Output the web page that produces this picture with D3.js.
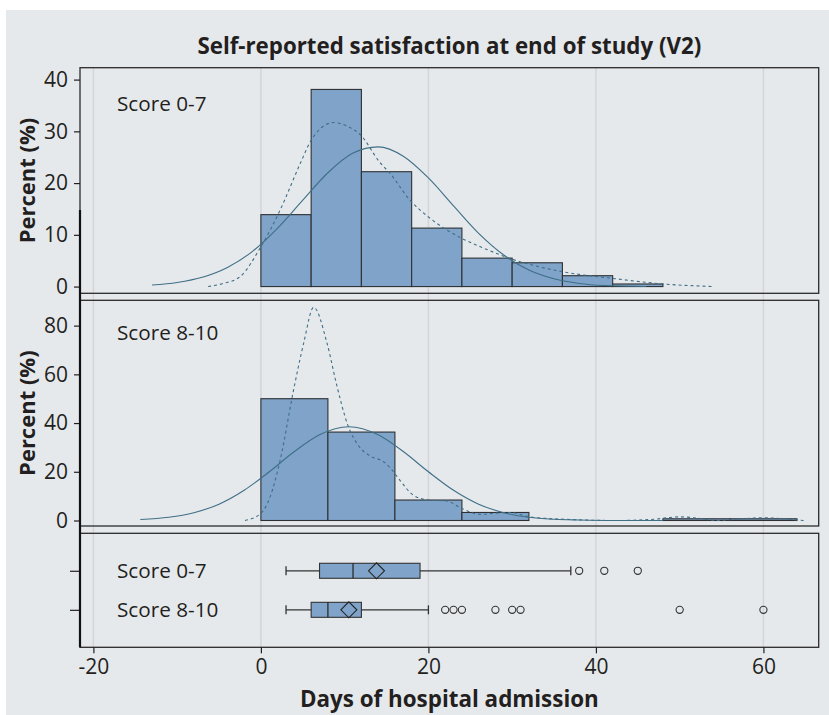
<!DOCTYPE html>
<html>
<head>
<meta charset="utf-8">
<script src="https://d3js.org/d3.v7.min.js"></script>
<style>
  body { margin: 0; background: #fff; }
  svg { display: block; font-family: "Open Sans", "Noto Sans", sans-serif; }
</style>
</head>
<body>
<svg id="chart" width="829" height="715"></svg>
<script>
// ---- data ----
const groups = ["Score 0-7", "Score 8-10"];

// histogram, score 0-7 (6-day bins)
const binStartLow = [0, 6, 12, 18, 24, 30, 36, 42];
const binWidthLow = 6;
const pctLow = [13.9, 38.1, 22.2, 11.3, 5.5, 4.6, 2.1, 0.5];

// histogram, score 8-10 (8-day bins)
const binStartHigh = [0, 8, 16, 24, 32, 40, 48, 56];
const binWidthHigh = 8;
const pctHigh = [50.0, 36.3, 8.4, 3.3, 0, 0, 0.7, 0.7];

// fitted normal curves (solid)
const normalLow = [[-13, 0.3], [-10, 0.8], [-7, 1.8], [-4, 3.7], [-1, 6.8], [2, 11.3], [5, 16.7],
  [8, 22.0], [11, 25.8], [14, 27.0], [17, 25.2], [20, 21.0], [23, 15.6], [26, 10.3], [29, 6.1],
  [32, 3.2], [35, 1.5], [38, 0.6], [41, 0.2], [46, 0]];
const normalHigh = [[-14.4, 0.4], [-11, 1.3], [-8, 3.2], [-5, 6.7], [-2, 12.4], [1, 20.0], [4, 28.3],
  [7, 35.2], [10.5, 38.5], [14, 35.2], [17, 28.3], [20, 20.0], [23, 12.4], [26, 6.7], [29, 3.2],
  [32, 1.3], [35, 0.5], [38, 0.2], [42, 0], [48, 0]];

// kernel density curves (dashed)
const kernelLow = [[-6.3, 0], [-4.5, 0.6], [-2.5, 1.9], [0, 7.7], [2.3, 14.8], [4.7, 23.8], [5.9, 28.0],
  [7.3, 30.8], [8.7, 31.7], [10.3, 31.0], [11.9, 29.3], [14.2, 24.0], [15.4, 21.9], [17.8, 16.7],
  [20.2, 13.2], [24, 9.3], [26.2, 7.7], [29.8, 5.4], [35.9, 2.9], [41.9, 1.6], [48.1, 0.5], [54, 0]];
const kernelHigh = [[-1.9, 0], [0, 2.9], [1.1, 9.7], [2.3, 24.8], [3.9, 53.6], [5.1, 72.7], [6.3, 87.5],
  [7.9, 72.7], [9.1, 54.9], [10.3, 39.9], [11.7, 30.5], [13.05, 26.5], [14.6, 24.2], [15.6, 21.0],
  [16.6, 16.5], [18.2, 10.4], [20, 8.4], [22.2, 8.0], [24, 4.9], [26.2, 2.5], [28, 3.0], [29.8, 3.3],
  [32, 1.5], [37, 0.4], [42.5, 0], [46.9, 0.5], [50, 1.5], [52.5, 0.8], [54.4, 0], [57, 0.6],
  [60, 1.1], [62.5, 0.7], [64.8, 0]];

// box plot statistics
const whiskerLo = [3, 3];
const q1 = [7, 6];
const median = [11, 8];
const mean = [13.8, 10.5];
const q3 = [19, 12];
const whiskerHi = [37, 20];
const outliers = [[38, 41, 45], [22, 23, 24, 28, 30, 31, 50, 60]];

const xTicks = [-20, 0, 20, 40, 60];
const yTicksLow = [0, 10, 20, 30, 40];
const yTicksHigh = [0, 20, 40, 60, 80];

// ---- layout ----
const ink = "#231f20";
const bg = "#e6e9ec";
const barFill = "#7fa3c9";
const curveColor = "#3f6f86";
const plotL = 80, plotR = 818.7;
const panels = {
  low: { top: 67.7, bottom: 293.3 },
  high: { top: 300.3, bottom: 526 },
  box: { top: 533.3, bottom: 647.3 }
};

const svg = d3.select("#chart");
svg.append("rect").attr("x", 6).attr("y", 10).attr("width", 823).attr("height", 705).attr("fill", bg);

const x = d3.scaleLinear().domain([-21.6, 66.6]).range([plotL, plotR]);
const yLow = d3.scaleLinear().domain([-1.3, 42.3]).range([panels.low.bottom, panels.low.top]);
const yHigh = d3.scaleLinear().domain([-2.26, 90.4]).range([panels.high.bottom, panels.high.top]);
const yBox = d3.scalePoint().domain(groups).range([panels.box.top, panels.box.bottom]).padding(0.96);

// title
svg.append("text")
  .attr("x", (plotL + plotR) / 2).attr("y", 54)
  .attr("text-anchor", "middle")
  .attr("fill", ink)
  .style("font-size", "22.3px").style("font-weight", "700")
  .text("Self-reported satisfaction at end of study (V2)");

// vertical grid lines through all panels
svg.append("g")
  .selectAll("line")
  .data(xTicks)
  .join("line")
  .attr("x1", d => x(d)).attr("x2", d => x(d))
  .attr("y1", panels.low.top).attr("y2", panels.box.bottom)
  .attr("stroke", "#d3d5d8").attr("stroke-width", 1.5);

function histPanel(p, y, starts, width, pct, normal, kernel, ticks, label) {
  const g = svg.append("g");

  g.selectAll("rect.bar")
    .data(pct.map((v, i) => ({ x0: starts[i], x1: starts[i] + width, v })).filter(d => d.v > 0))
    .join("rect")
    .attr("class", "bar")
    .attr("x", d => x(d.x0))
    .attr("width", d => x(d.x1) - x(d.x0))
    .attr("y", d => y(d.v))
    .attr("height", d => y(0) - y(d.v))
    .attr("fill", barFill)
    .attr("stroke", "#2e3033")
    .attr("stroke-width", 1.1);

  const line = d3.line().x(d => x(d[0])).y(d => y(d[1])).curve(d3.curveMonotoneX);

  g.append("path")
    .attr("d", line(normal))
    .attr("fill", "none")
    .attr("stroke", curveColor)
    .attr("stroke-width", 1.1);

  g.append("path")
    .attr("d", line(kernel))
    .attr("fill", "none")
    .attr("stroke", curveColor)
    .attr("stroke-width", 1.1)
    .attr("stroke-dasharray", "3,3");

  // frame
  g.append("rect")
    .attr("x", plotL).attr("y", p.top)
    .attr("width", plotR - plotL).attr("height", p.bottom - p.top)
    .attr("fill", "none").attr("stroke", "#2b2b2b").attr("stroke-width", 1.3);

  // y axis
  const axis = g.append("g")
    .attr("transform", `translate(${plotL},0)`)
    .call(d3.axisLeft(y).tickValues(ticks).tickSize(6).tickPadding(6));
  axis.select(".domain").remove();
  axis.selectAll("line").attr("stroke", ink).attr("stroke-width", 1.2);
  axis.selectAll("text")
    .attr("fill", ink)
    .style("font-size", "21px")
    .style("font-family", "'Open Sans', sans-serif");

  g.append("text")
    .attr("transform", `translate(35,${(p.top + p.bottom) / 2}) rotate(-90)`)
    .attr("text-anchor", "middle")
    .attr("fill", ink)
    .style("font-size", "22px").style("font-weight", "700")
    .text("Percent (%)");

  g.append("text")
    .attr("x", 117).attr("y", p.top + (label === groups[0] ? 43 : 40))
    .attr("fill", ink)
    .style("font-size", "20.7px")
    .text(label);
}

histPanel(panels.low, yLow, binStartLow, binWidthLow, pctLow, normalLow, kernelLow, yTicksLow, groups[0]);
histPanel(panels.high, yHigh, binStartHigh, binWidthHigh, pctHigh, normalHigh, kernelHigh, yTicksHigh, groups[1]);

// ---- box plot panel ----
const bp = svg.append("g");
const stats = groups.map((gName, i) => ({
  name: gName, lo: whiskerLo[i], q1: q1[i], med: median[i], mean: mean[i], q3: q3[i], hi: whiskerHi[i], out: outliers[i]
}));
const boxH = 15, capH = 9, dia = 8;

const row = bp.selectAll("g.row").data(stats).join("g")
  .attr("class", "row")
  .attr("transform", d => `translate(0,${yBox(d.name)})`);

row.append("line")
  .attr("x1", d => x(d.lo)).attr("x2", d => x(d.hi))
  .attr("stroke", "#333").attr("stroke-width", 1.3);
row.selectAll("line.cap").data(d => [d.lo, d.hi]).join("line")
  .attr("class", "cap")
  .attr("x1", d => x(d)).attr("x2", d => x(d))
  .attr("y1", -capH / 2).attr("y2", capH / 2)
  .attr("stroke", "#333").attr("stroke-width", 1.3);
row.append("rect")
  .attr("x", d => x(d.q1)).attr("width", d => x(d.q3) - x(d.q1))
  .attr("y", -boxH / 2).attr("height", boxH)
  .attr("fill", barFill).attr("stroke", "#333").attr("stroke-width", 1.1);
row.append("line")
  .attr("x1", d => x(d.med)).attr("x2", d => x(d.med))
  .attr("y1", -boxH / 2).attr("y2", boxH / 2)
  .attr("stroke", "#222").attr("stroke-width", 1.2);
row.append("path")
  .attr("d", d => `M${x(d.mean) - dia},0L${x(d.mean)},${-dia}L${x(d.mean) + dia},0L${x(d.mean)},${dia}Z`)
  .attr("fill", "none").attr("stroke", "#222").attr("stroke-width", 1.1);
row.selectAll("circle").data(d => d.out).join("circle")
  .attr("cx", d => x(d)).attr("cy", 0).attr("r", 3.6)
  .attr("fill", "none").attr("stroke", "#333").attr("stroke-width", 1.1);

bp.selectAll("text.lbl").data(groups).join("text")
  .attr("class", "lbl")
  .attr("x", 117).attr("y", d => yBox(d))
  .attr("dy", "0.35em")
  .attr("fill", ink)
  .style("font-size", "20.7px")
  .text(d => d);

bp.append("rect")
  .attr("x", plotL).attr("y", panels.box.top)
  .attr("width", plotR - plotL).attr("height", panels.box.bottom - panels.box.top)
  .attr("fill", "none").attr("stroke", "#2b2b2b").attr("stroke-width", 1.3);

const rowAxis = bp.append("g")
  .attr("transform", `translate(${plotL},0)`)
  .call(d3.axisLeft(yBox).tickSize(10).tickFormat(""));
rowAxis.select(".domain").remove();
rowAxis.selectAll("line").attr("stroke", ink).attr("stroke-width", 1.2);

// heavier left spine, as in the reference
svg.append("line")
  .attr("x1", plotL).attr("x2", plotL)
  .attr("y1", 210).attr("y2", panels.box.bottom)
  .attr("stroke", "#111").attr("stroke-width", 2.2);

// x axis
const xAxis = svg.append("g")
  .attr("transform", `translate(0,${panels.box.bottom})`)
  .call(d3.axisBottom(x).tickValues(xTicks).tickSize(6).tickPadding(6).tickFormat(d3.format("d")));
xAxis.select(".domain").remove();
xAxis.selectAll("line").attr("stroke", ink).attr("stroke-width", 1.2);
xAxis.selectAll("text")
  .attr("fill", ink)
  .style("font-size", "21px")
  .style("font-family", "'Open Sans', sans-serif")
  .text(d => d < 0 ? "-" + Math.abs(d) : d);

svg.append("text")
  .attr("x", (plotL + plotR) / 2).attr("y", 707)
  .attr("text-anchor", "middle")
  .attr("fill", ink)
  .style("font-size", "22.4px").style("font-weight", "700")
  .text("Days of hospital admission");
</script>
</body>
</html>
